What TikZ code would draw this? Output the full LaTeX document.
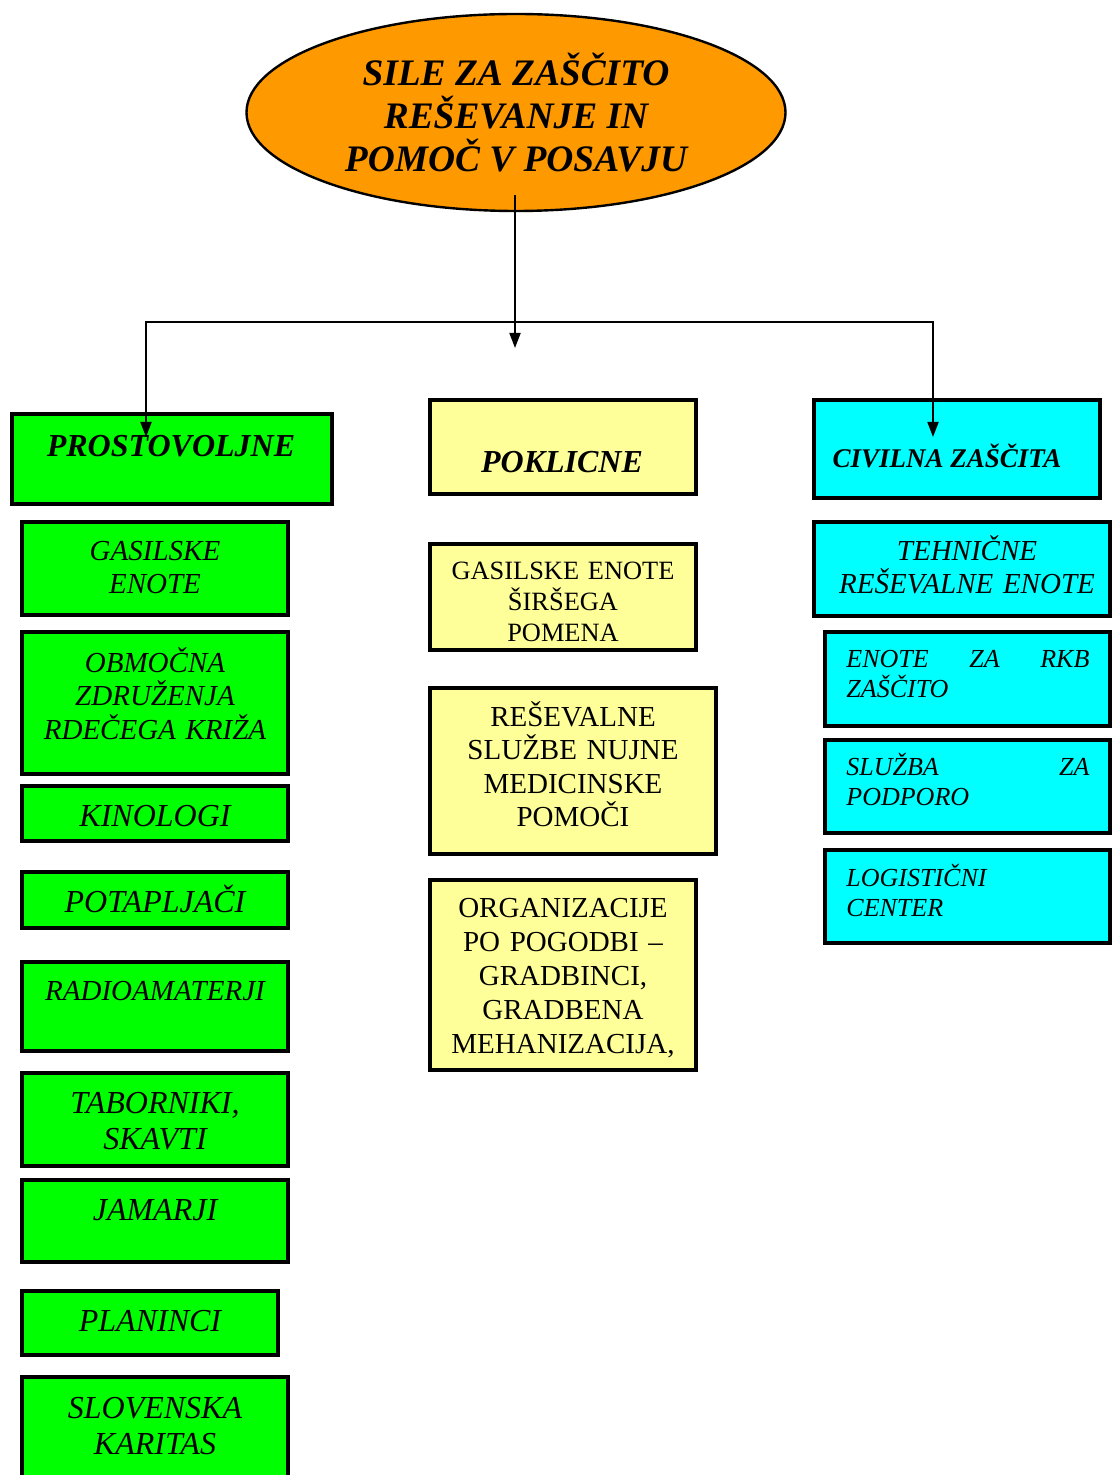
\documentclass[tikz,border=0pt]{standalone}
\usepackage{fontspec}
\setmainfont{Liberation Serif}
\usetikzlibrary{arrows.meta,fit,shapes.geometric}

\definecolor{zorange}{HTML}{FF9900}
\definecolor{zgreen}{HTML}{00FF00}
\definecolor{zyellow}{HTML}{FFFF99}
\definecolor{zcyan}{HTML}{00FFFF}

\tikzset{
    box/.style={draw, line width=2pt, inner sep=0pt},
    gbox/.style={box, fill=zgreen},
    ybox/.style={box, fill=zyellow},
    cbox/.style={box, fill=zcyan},
    head/.style={anchor=base, inner sep=0pt, font=\bfseries\itshape\fontsize{16}{19}\selectfont},
    gtxt/.style={anchor=base, text width=130pt, align=center, inner sep=0pt,
        font=\itshape\fontsize{14.5}{16.75}\selectfont},
    ytxt/.style={anchor=base, text width=140pt, align=center, inner sep=0pt,
        font=\fontsize{14.5}{16.75}\selectfont},
    ctxt/.style={anchor=base west, text width=121.5pt, align=left, inner sep=0pt,
        font=\itshape\fontsize{13}{15}\selectfont},
    arr/.style={line width=0.9pt, -{Triangle[length=7.5pt,width=5.5pt]}},
}

\begin{document}
\begin{tikzpicture}[x=0.5pt,y=-0.5pt]
    \useasboundingbox (0,0) rectangle (1112,1475);

    % Title ellipse
    \node[ellipse, draw, line width=1.2pt, fill=zorange, minimum width=269.5pt, minimum height=98.5pt,
        inner sep=0pt, align=center, font=\bfseries\itshape\fontsize{18.7}{21.5}\selectfont]
        (title) at (516,112.5) {SILE ZA ZAŠČITO\\REŠEVANJE IN\\POMOČ V POSAVJU};

    % Three groups: heads
    \node[gbox, fit={(12,414) (332,504)}] (pros) {};
    \node[head] (prosT) at (171,457) {PROSTOVOLJNE};
    \node[ybox, fit={(430,400) (696,494)}] (pokl) {};
    \node[head] (poklT) at (562,473) {POKLICNE};
    \node[cbox, fit={(814,400) (1100,498)}] (civ) {};
    \node[head, font=\bfseries\itshape\fontsize{13.5}{16}\selectfont] (civT) at (947,468) {CIVILNA ZAŠČITA};

    % Green column
    \foreach \nm/\xb/\ya/\yb/\yt/\fs/\bs/\txt in {
        gas/290/520/617/560/14.5/16.75/{GASILSKE\\ENOTE},
        obm/290/630/776/672/14.5/16.75/{OBMOČNA\\ZDRUŽENJA\\RDEČEGA KRIŽA},
        kin/290/784/843/826/16/18/{KINOLOGI},
        pot/290/870/930/912/16/18/{POTAPLJAČI},
        rad/290/960/1053/1000/14.5/16.75/{RADIOAMATERJI},
        tab/290/1071/1168/1113/16/18/{TABORNIKI,\\SKAVTI},
        jam/290/1178/1264/1220/16/18/{JAMARJI},
        pla/280/1289/1357/1331/16/18/{PLANINCI},
        slo/290/1375/1495/1418/16/18/{SLOVENSKA\\KARITAS}}{%
        \node[gbox, fit={(22,\ya+2) (\xb-2,\yb-2)}] (\nm) {};
        \node[gtxt, font=\itshape\fontsize{\fs}{\bs}\selectfont] (\nm T) at ({(20+\xb)/2},\yt) {\txt};
    }

    % Yellow column
    \node[ybox, fit={(430,544) (696,650)}] (gse) {};
    \begin{scope}
        \clip (gse.north west) rectangle ([yshift=5.5pt]gse.south east);
        \node[ytxt, font=\fontsize{13.2}{15.5}\selectfont] (gseT) at (563,579) {GASILSKE ENOTE\\ŠIRŠEGA\\POMENA};
    \end{scope}
    \node[ybox, fit={(430,688) (716,854)}] (rsl) {};
    \node[ytxt] (rslT) at (573,726) {REŠEVALNE\\SLUŽBE NUJNE\\MEDICINSKE\\POMOČI};
    \node[ybox, fit={(430,880) (696,1070)}] (org) {};
    \node[ytxt, font=\fontsize{14.5}{17}\selectfont] (orgT) at (563,917) {ORGANIZACIJE\\PO POGODBI –\\GRADBINCI,\\GRADBENA\\MEHANIZACIJA,};

    % Cyan column
    \node[cbox, fit={(814,522) (1110,616)}] (teh) {};
    \node[gtxt, text width=140pt] (tehT) at (967,560) {TEHNIČNE\\REŠEVALNE ENOTE};
    \foreach \nm/\ya/\yb/\yt/\txt in {
        rkb/630/728/667/{ENOTE\hfill ZA\hfill RKB\\ZAŠČITO},
        slu/738/835/775/{SLUŽBA\hfill ZA\\PODPORO},
        log/848/945/886/{LOGISTIČNI\\CENTER}}{%
        \node[cbox, fit={(825,\ya+2) (1110,\yb-2)}] (\nm) {};
        \node[ctxt] (\nm T) at (846,\yt) {\txt};
    }

    % Connectors
    \coordinate (mend)  at (515,348);
    \coordinate (split) at (515,322);
    \coordinate (lend)  at (146,437);
    \coordinate (rend)  at (933,437);
    \draw[arr] ([yshift=8.5pt]title.south -| split) -- (mend);
    \draw[arr] (split) -| (lend);
    \draw[arr] (split) -| (rend);
\end{tikzpicture}
\end{document}
